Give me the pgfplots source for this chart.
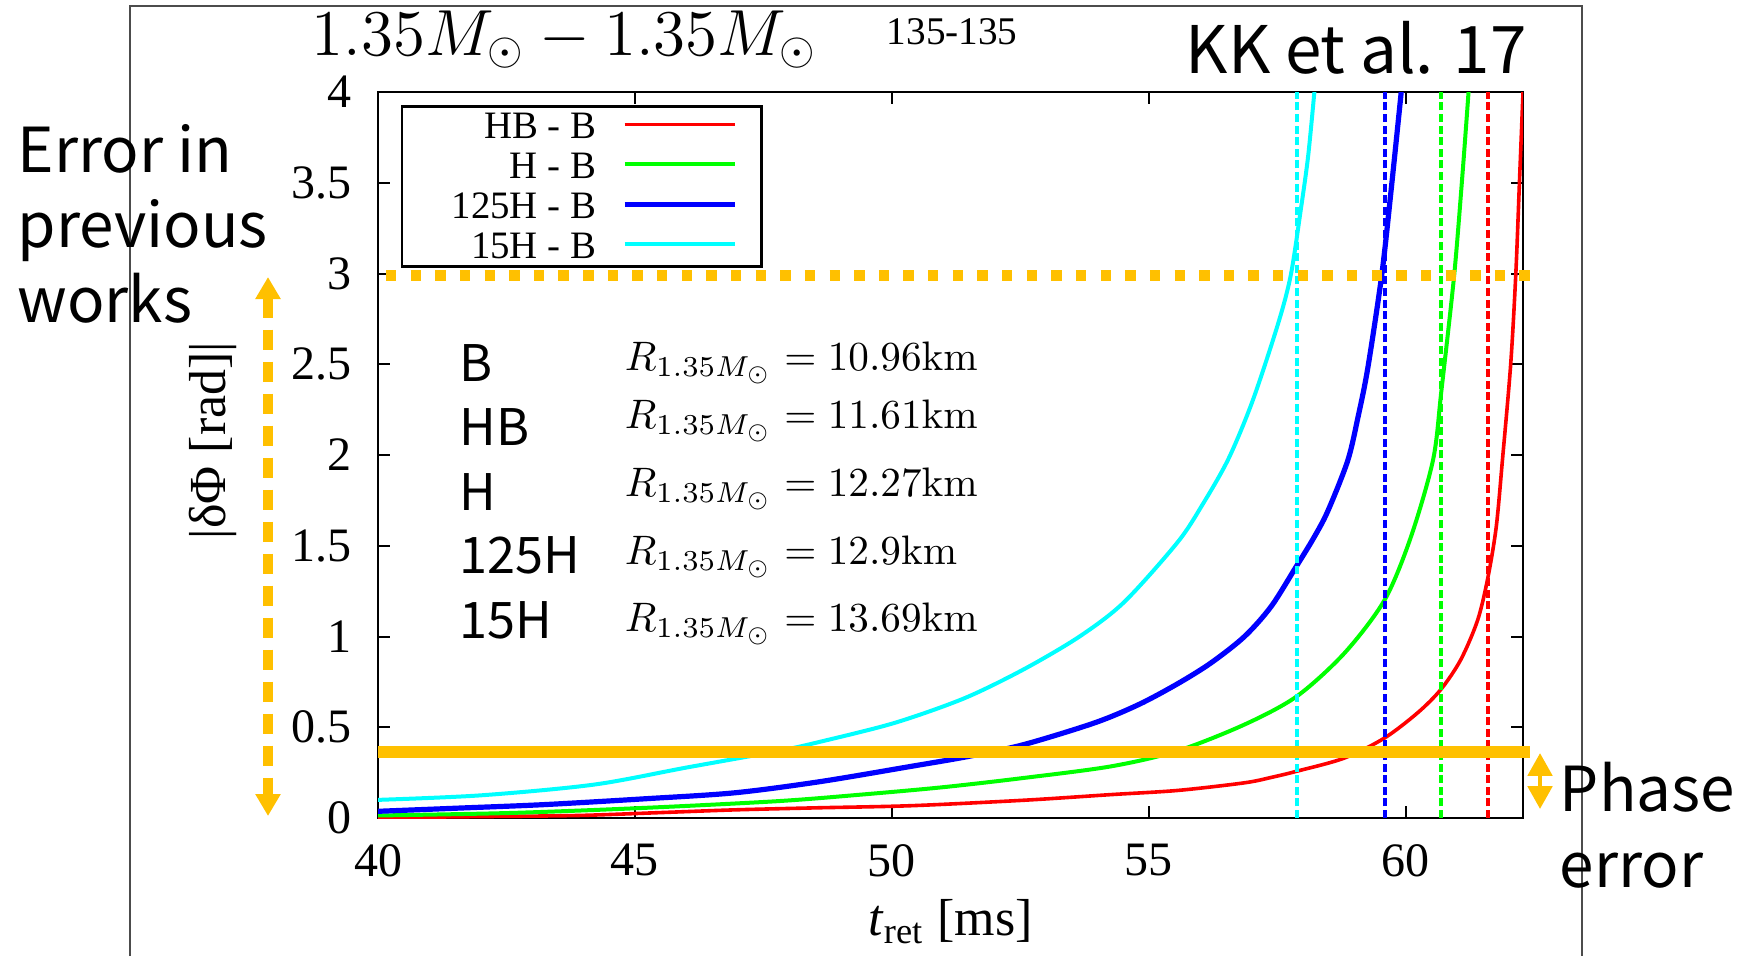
\RequirePackage{fix-cm}
\documentclass[border=0pt]{standalone}
\usepackage[no-math]{fontspec}
\setmainfont{Liberation Serif}
\newfontfamily\jpfont{Noto Sans CJK JP}
\usepackage{pgfplots}
\pgfplotsset{compat=1.18}
\usetikzlibrary{arrows.meta}

\definecolor{gpred}{RGB}{255,0,0}
\definecolor{gpgreen}{RGB}{0,255,0}
\definecolor{gpblue}{RGB}{0,0,255}
\definecolor{gpcyan}{RGB}{0,255,255}
\definecolor{hlorange}{RGB}{255,192,0}

% |dPhi| vs t_ret
\pgfplotstableread{
t     dphi
40.00 0.002
42.00 0.008
43.89 0.014
45.50 0.030
46.94 0.045
48.50 0.056
50.38 0.068
52.57 0.098
54.26 0.129
55.56 0.152
56.86 0.194
57.40 0.225
57.88 0.258
58.80 0.330
59.58 0.440
60.23 0.580
60.68 0.708
61.07 0.873
61.40 1.093
61.60 1.330
61.76 1.607
61.88 1.974
62.04 2.500
62.14 3.000
62.21 3.500
62.28 4.000
}\hbb
\pgfplotstableread{
t     dphi
40.00 0.014
42.59 0.028
45.19 0.056
47.78 0.093
49.40 0.129
51.00 0.170
52.57 0.221
54.27 0.285
55.56 0.370
56.86 0.515
57.88 0.671
58.81 0.910
59.59 1.203
60.10 1.550
60.53 1.974
60.69 2.350
60.94 2.990
61.10 3.540
61.22 4.000
}\hb
\pgfplotstableread{
t     dphi
40.00 0.037
41.60 0.055
43.24 0.074
45.19 0.106
46.94 0.139
48.59 0.200
50.38 0.285
51.50 0.340
52.57 0.405
53.94 0.524
54.80 0.625
55.56 0.740
56.21 0.855
56.86 1.000
57.38 1.166
57.87 1.387
58.20 1.540
58.48 1.690
58.87 1.970
59.07 2.210
59.26 2.480
59.53 2.990
59.71 3.450
59.91 4.000
}\hhb
\pgfplotstableread{
t     dphi
40.00 0.100
42.00 0.125
44.20 0.184
46.00 0.278
47.80 0.370
48.60 0.420
50.05 0.524
51.41 0.660
52.57 0.820
53.65 1.000
54.52 1.190
55.56 1.520
56.05 1.730
56.55 1.980
57.02 2.300
57.51 2.720
57.76 2.990
57.96 3.360
58.10 3.650
58.22 4.000
}\fhb

\begin{document}
\begin{tikzpicture}
\path[use as bounding box] (0,0) rectangle (435.5pt,-239pt);
\begin{axis}[
    at={(94.5pt,-204.5pt)}, anchor=south west,
    scale only axis,
    width=286.25pt, height=181.5pt,
    xmin=40, xmax=62.28,
    ymin=0, ymax=4,
    xtick={40,45,50,55,60},
    ytick={0,0.5,1,1.5,2,2.5,3,3.5,4},
    tick align=inside,
    major tick length=3pt,
    every tick/.style={black, line width=0.5pt},
    axis line style={line width=0.6pt},
    /pgf/number format/assume math mode=true,
    tick label style={font=\fontsize{12}{12}\selectfont},
    yticklabel style={xshift=-3pt},
    xticklabel style={yshift=-3pt},
    xlabel={\textit{t}\textsubscript{ret} [ms]},
    ylabel={|δΦ [rad]|},
    label style={font=\fontsize{13}{13}\selectfont},
    xlabel style={at={(axis description cs:0.5,-0.143)}, anchor=center},
    ylabel style={at={(axis description cs:-0.144,0.52)}, anchor=center},
    legend plot pos=right,
    legend image code/.code={\draw[#1] (0pt,0.5pt) -- (27.5pt,0.5pt);},
    legend style={at={(axis description cs:0.02,0.982)}, anchor=north west,
        draw=black, line width=0.6pt, inner xsep=6pt, inner ysep=0pt,
        column sep=6pt, row sep=0pt,
        font=\fontsize{9.7}{10}\selectfont,
        nodes={inner sep=0.5pt, text height=7.5pt, text depth=1.5pt}},
]
\addplot[gpred, line width=0.9pt, smooth] table[x=t, y=dphi] {\hbb};
\addlegendentry{\makebox[42pt][r]{HB - B}}
\addplot[gpgreen, line width=1pt, smooth] table[x=t, y=dphi] {\hb};
\addlegendentry{\makebox[42pt][r]{H - B}}
\addplot[gpblue, line width=1.3pt, smooth] table[x=t, y=dphi] {\hhb};
\addlegendentry{\makebox[42pt][r]{125H - B}}
\addplot[gpcyan, line width=1pt, smooth] table[x=t, y=dphi] {\fhb};
\addlegendentry{\makebox[42pt][r]{15H - B}}

% merger times
\addplot[gpcyan, line width=1pt, dash pattern=on 2pt off 0.9pt, forget plot] coordinates {(57.88,0) (57.88,4)};
\addplot[gpblue, line width=1pt, dash pattern=on 2pt off 0.9pt, forget plot] coordinates {(59.59,0) (59.59,4)};
\addplot[gpgreen, line width=1pt, dash pattern=on 2pt off 0.9pt, forget plot] coordinates {(60.68,0) (60.68,4)};
\addplot[gpred, line width=1pt, dash pattern=on 2pt off 0.9pt, forget plot] coordinates {(61.60,0) (61.60,4)};
\end{axis}

\begin{scope}[x=0.25pt, y=-0.25pt]
% slide frame
\draw[line width=0.45pt, black!70] (130,956) -- (130,6) -- (1582,6) -- (1582,956);

% title
\node[anchor=base west, inner sep=0, font=\fontsize{16.3}{18}\selectfont]
    at (311,55) {$1.35M_\odot - 1.35M_\odot$};
\node[anchor=base west, inner sep=0, font=\fontsize{9.8}{11}\selectfont]
    at (886,44) {135-135};
\node[anchor=base west, inner sep=0, font=\jpfont\fontsize{16.4}{18}\selectfont]
    at (1185,73) {KK et al. 17};

\begin{scope}[every node/.style={anchor=base west, inner sep=0,
        font=\jpfont\fontsize{15.5}{18}\selectfont}]
\node at (17,172) {Error in};
\node at (17,247) {previous};
\node at (17,322) {works};
\node at (1559,811) {Phase};
\node at (1559,887) {error};
\end{scope}

\begin{scope}[every node/.style={anchor=base west, inner sep=0,
        font=\jpfont\fontsize{12.6}{14}\selectfont}]
\node at (459,381) {B};
\node at (459,445) {HB};
\node at (459,510) {H};
\node at (459,573) {125H};
\node at (459,638) {15H};
\end{scope}

\begin{scope}[every node/.style={anchor=base west, inner sep=0,
        font=\fontsize{10.3}{12}\selectfont}]
\node at (624,370) {$R_{1.35M_\odot} = 10.96\mathrm{km}$};
\node at (624,428) {$R_{1.35M_\odot} = 11.61\mathrm{km}$};
\node at (624,496) {$R_{1.35M_\odot} = 12.27\mathrm{km}$};
\node at (624,564) {$R_{1.35M_\odot} = 12.9\mathrm{km}$};
\node at (624,631) {$R_{1.35M_\odot} = 13.69\mathrm{km}$};
\end{scope}

% highlights
\draw[hlorange, line width=2.75pt, dash pattern=on 2.6pt off 3.56pt] (386,275) -- (1530,275);
\draw[hlorange, line width=3pt] (378,752) -- (1530,752);
\draw[hlorange, line width=2.3pt, dash pattern=on 5pt off 3pt,
    {Triangle[width=6pt,length=5.5pt]}-{Triangle[width=6pt,length=5.5pt]}]
    (268,277) -- (268,816);
\draw[hlorange, line width=1.2pt,
    {Triangle[width=6pt,length=5.7pt]}-{Triangle[width=6pt,length=5.7pt]}]
    (1540,753) -- (1540,809);
\end{scope}
\end{tikzpicture}
\end{document}
